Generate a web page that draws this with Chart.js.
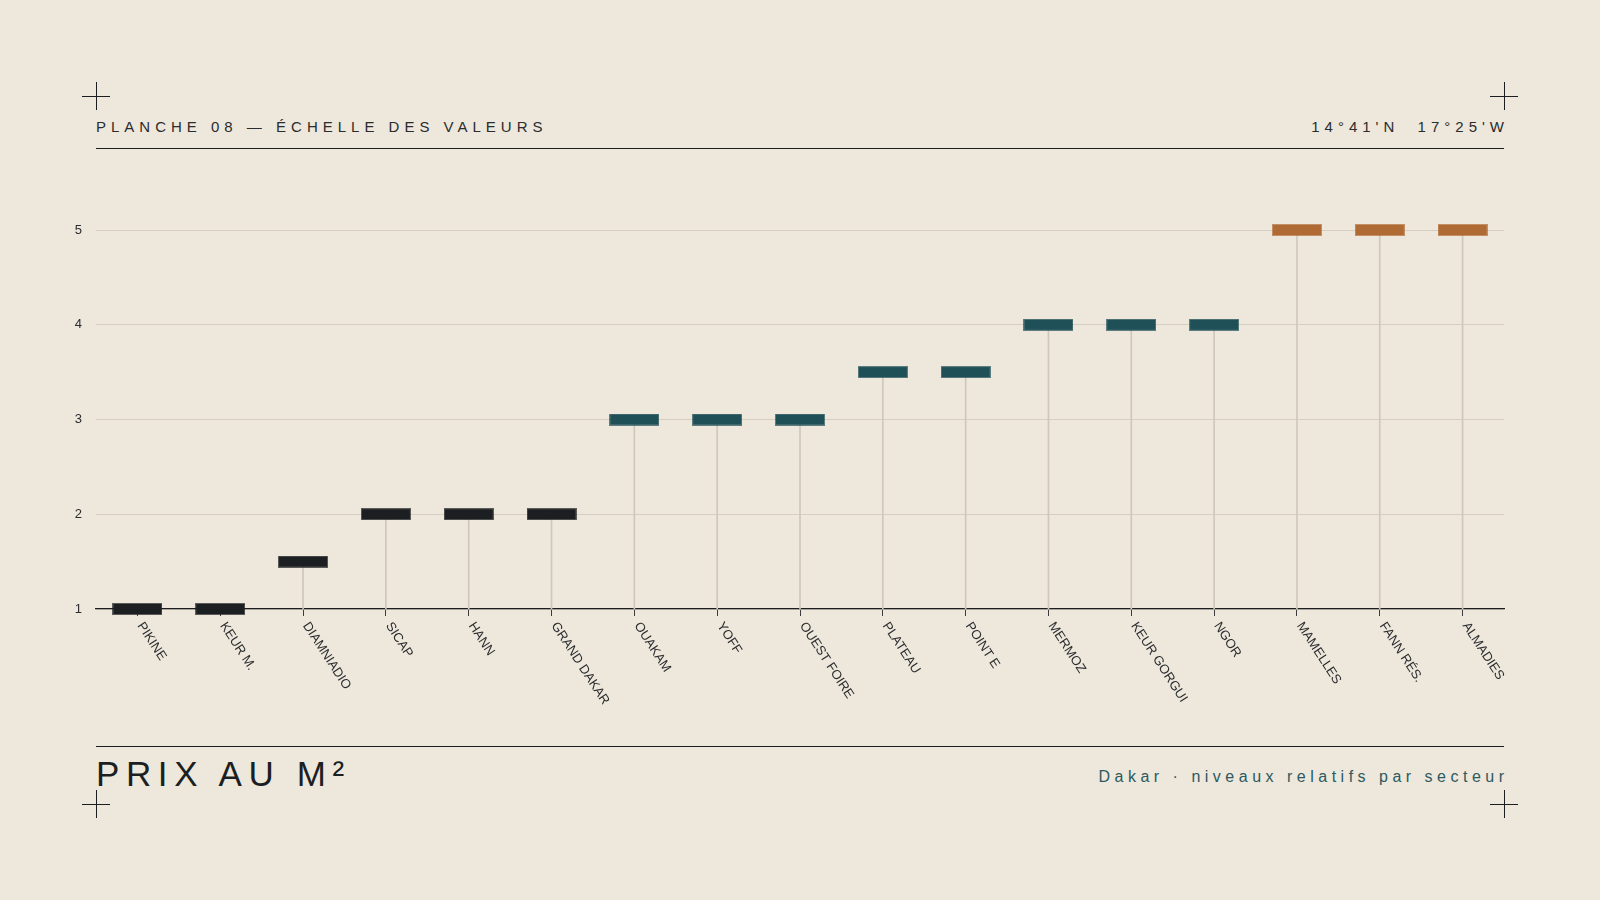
<!DOCTYPE html>
<html lang="fr">
<head>
<meta charset="UTF-8">
<title>Prix au m² — Dakar</title>
<script src="https://cdn.jsdelivr.net/npm/chart.js"></script>
<style>
  html, body { margin: 0; padding: 0; }
  body {
    width: 1600px; height: 900px; position: relative; overflow: hidden;
    background: #ede7dc; color: #1c1f21;
    font-family: "Liberation Sans", Arial, Helvetica, sans-serif;
  }
  .rule { position: absolute; left: 96px; width: 1408px; height: 1px; background: #1c1f21; }
  .cross-h { position: absolute; width: 28px; height: 1px; background: #1c1f21; }
  .cross-v { position: absolute; width: 1px; height: 28px; background: #1c1f21; }
  .head {
    position: absolute; top: 119px; font-size: 15px; line-height: 15px;
    letter-spacing: 5px; color: #2a2c2e; white-space: pre;
  }
  .title {
    position: absolute; left: 96px; top: 756px; font-size: 35px; line-height: 35px;
    letter-spacing: 6.6px; color: #1c1f21;
  }
  .sub {
    position: absolute; top: 769px; right: 96px; margin-right: -4.6px;
    font-size: 16px; line-height: 16px; letter-spacing: 4.5px; color: #2c5a5f;
  }
  #wrap { position: absolute; left: 40px; top: 180px; width: 1500px; height: 560px; }
</style>
</head>
<body>
<!-- corner marks -->
<div class="cross-h" style="left:82px;top:96px"></div><div class="cross-v" style="left:96px;top:82px"></div>
<div class="cross-h" style="left:1490px;top:96px"></div><div class="cross-v" style="left:1504px;top:82px"></div>
<div class="cross-h" style="left:82px;top:804px"></div><div class="cross-v" style="left:96px;top:790px"></div>
<div class="cross-h" style="left:1490px;top:804px"></div><div class="cross-v" style="left:1504px;top:790px"></div>

<div class="head" style="left:96px">PLANCHE 08 — ÉCHELLE DES VALEURS</div>
<div class="head" style="right:96px;margin-right:-5px">14°41'N  17°25'W</div>
<div class="rule" style="top:148px"></div>

<div id="wrap"><canvas id="chart"></canvas></div>

<div class="rule" style="top:746px"></div>
<div class="title">PRIX AU M²</div>
<div class="sub">Dakar · niveaux relatifs par secteur</div>

<script>
// secteurs, niveau relatif (1 à 5) et palier de couleur
const sectors = ['PIKINE', 'KEUR M.', 'DIAMNIADIO', 'SICAP', 'HANN', 'GRAND DAKAR',
                 'OUAKAM', 'YOFF', 'OUEST FOIRE', 'PLATEAU', 'POINT E',
                 'MERMOZ', 'KEUR GORGUI', 'NGOR', 'MAMELLES', 'FANN RÉS.', 'ALMADIES'];
const levels  = [1, 1, 1.5, 2, 2, 2, 3, 3, 3, 3.5, 3.5, 4, 4, 4, 5, 5, 5];
const tiers   = ['bas', 'bas', 'bas', 'bas', 'bas', 'bas',
                 'moyen', 'moyen', 'moyen', 'moyen', 'moyen', 'moyen', 'moyen', 'moyen',
                 'haut', 'haut', 'haut'];
const yTicks  = [1, 2, 3, 4, 5];

const tierColors = { bas: '#1c1f21', moyen: '#1f4f57', haut: '#b06a33' };

// little flat bar used as point marker
function makeMark(color) {
    const c = document.createElement('canvas');
    c.width = 50; c.height = 12;
    const g = c.getContext('2d');
    g.globalAlpha = 0.7;
    g.fillStyle = color;
    g.fillRect(0, 0, 50, 12);
    g.globalAlpha = 1;
    g.fillRect(1, 1, 48, 10);
    return c;
}
const marks = {};
Object.keys(tierColors).forEach(k => marks[k] = makeMark(tierColors[k]));

// rotated sector names, drawn from the x scale positions
const slantLabels = {
    id: 'slantLabels',
    afterDraw(chart) {
        const xs = chart.scales.x;
        const ctx = chart.ctx;
        ctx.save();
        ctx.font = '13px "Liberation Sans", Arial, sans-serif';
        ctx.fillStyle = '#2a2c2e';
        ctx.textAlign = 'left';
        ctx.textBaseline = 'top';
        sectors.forEach((name, i) => {
            const px = xs.getPixelForTick(i);
            ctx.save();
            ctx.translate(px + 8, xs.top + 11);
            ctx.rotate(57 * Math.PI / 180);
            ctx.fillText(name, 0, 0);
            ctx.restore();
        });
        ctx.restore();
    }
};

new Chart(document.getElementById('chart').getContext('2d'), {
    type: 'bar',
    data: {
        labels: sectors,
        datasets: [{
            type: 'line',
            data: levels,
            showLine: false,
            pointStyle: ctx => marks[tiers[ctx.dataIndex]],
            pointRadius: 6,
            clip: false,
            order: 0
        }, {
            type: 'bar',
            data: levels.map(v => [yTicks[0], v]),
            backgroundColor: '#d0c7b9',
            barThickness: 1,
            order: 1
        }]
    },
    options: {
        responsive: true,
        maintainAspectRatio: false,
        animation: false,
        layout: { padding: { top: 50, right: 36, left: 0, bottom: 0 } },
        plugins: { legend: { display: false }, tooltip: { enabled: false } },
        scales: {
            x: {
                offset: true,
                grid: { display: true, drawOnChartArea: false, drawTicks: true, tickLength: 7,
                        offset: false, color: '#3a3c3e' },
                border: { display: true, color: '#1c1f21', width: 1.2 },
                ticks: { display: false },
                afterFit: s => { s.height = 131; }
            },
            y: {
                min: 1, max: 5,
                afterBuildTicks: s => { s.ticks = yTicks.map(v => ({ value: v })); },
                grid: { color: '#d6cec1', drawTicks: false },
                border: { display: false },
                ticks: { padding: 14, color: '#2a2c2e', font: { size: 13, family: '"Liberation Sans", Arial, sans-serif' } },
                afterFit: s => { s.width = 56; }
            }
        }
    },
    plugins: [slantLabels]
});
</script>
</body>
</html>
